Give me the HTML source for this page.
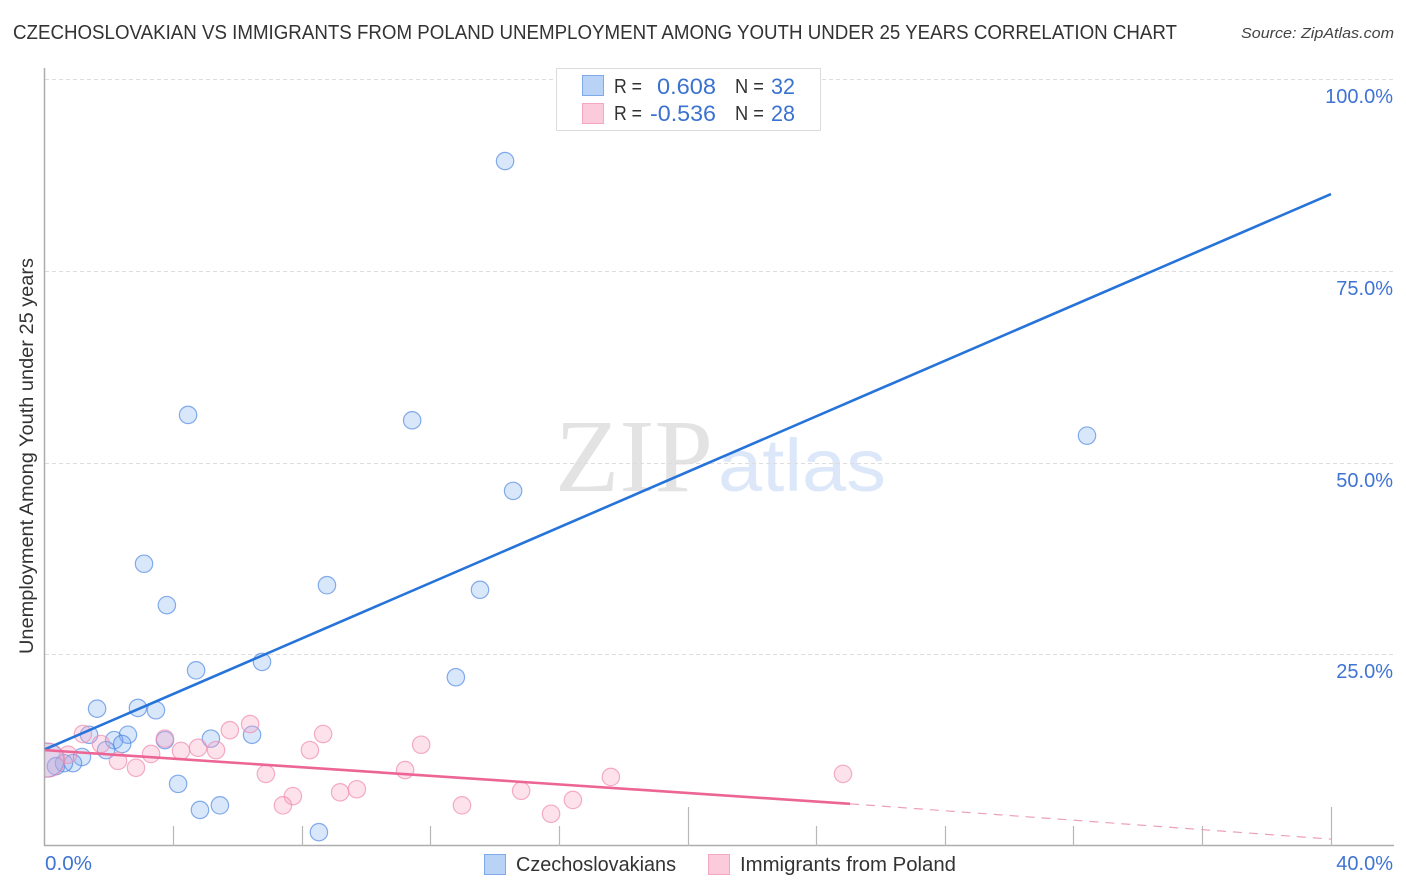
<!DOCTYPE html>
<html lang="en">
<head>
<meta charset="utf-8">
<title>Unemployment correlation chart</title>
<style>
html,body{margin:0;padding:0;background:#fff;width:1406px;height:892px;overflow:hidden}
svg{display:block}
text{font-family:"Liberation Sans",sans-serif}
</style>
</head>
<body>
<svg id="chart" xmlns="http://www.w3.org/2000/svg" width="1406" height="892" viewBox="0 0 1406 892">
  <rect x="0" y="0" width="1406" height="892" fill="#ffffff"/>
  <text x="13" y="39" font-size="20" fill="#333" textLength="1164" lengthAdjust="spacingAndGlyphs">CZECHOSLOVAKIAN VS IMMIGRANTS FROM POLAND UNEMPLOYMENT AMONG YOUTH UNDER 25 YEARS CORRELATION CHART</text>
  <text x="1241" y="38" font-size="15" font-style="italic" fill="#444" textLength="153" lengthAdjust="spacingAndGlyphs">Source: ZipAtlas.com</text>
  <text x="555" y="491" font-size="104" fill="#e3e3e3" style="font-family:'Liberation Serif',serif" textLength="158" lengthAdjust="spacingAndGlyphs">ZIP</text>
  <text x="718" y="491" font-size="74" fill="#dce8f9" textLength="168" lengthAdjust="spacingAndGlyphs">atlas</text>
  <g id="grid"></g>
  <g id="axes"></g>
  <g id="points"></g>
  <g id="trends"></g>
  <text transform="translate(33,654) rotate(-90)" x="0" y="0" font-size="19" fill="#333" textLength="396" lengthAdjust="spacingAndGlyphs">Unemployment Among Youth under 25 years</text>

  <g>
    <rect x="556.5" y="68.5" width="264" height="62" fill="#fff" stroke="#dcdcdc" stroke-width="1"/>
    <rect x="582.5" y="75.5" width="21" height="20" fill="#b9d3f7" stroke="#7eaaea"/>
    <rect x="582.5" y="103.5" width="21" height="20" fill="#fccbdb" stroke="#f4a8c0"/>
    <text x="614" y="93" font-size="20" fill="#333" textLength="28" lengthAdjust="spacingAndGlyphs">R =</text>
    <text x="657" y="94" font-size="22" fill="#3a72d0" textLength="59" lengthAdjust="spacingAndGlyphs">0.608</text>
    <text x="735" y="93" font-size="20" fill="#333" textLength="29" lengthAdjust="spacingAndGlyphs">N =</text>
    <text x="771" y="94" font-size="22" fill="#3a72d0" textLength="24" lengthAdjust="spacingAndGlyphs">32</text>
    <text x="614" y="120" font-size="20" fill="#333" textLength="28" lengthAdjust="spacingAndGlyphs">R =</text>
    <text x="650" y="121" font-size="22" fill="#3a72d0" textLength="66" lengthAdjust="spacingAndGlyphs">-0.536</text>
    <text x="735" y="120" font-size="20" fill="#333" textLength="29" lengthAdjust="spacingAndGlyphs">N =</text>
    <text x="771" y="121" font-size="22" fill="#3a72d0" textLength="24" lengthAdjust="spacingAndGlyphs">28</text>
  </g>

  <g>
    <rect x="484.5" y="854.5" width="21" height="20" fill="#b9d3f7" stroke="#7eaaea"/>
    <text x="516" y="871" font-size="20" fill="#333" textLength="160" lengthAdjust="spacingAndGlyphs">Czechoslovakians</text>
    <rect x="708.5" y="854.5" width="21" height="20" fill="#fccbdb" stroke="#f4a8c0"/>
    <text x="740" y="871" font-size="20" fill="#333" textLength="216" lengthAdjust="spacingAndGlyphs">Immigrants from Poland</text>
  </g>
</svg>
<script>
const yTickValues = [25, 50, 75, 100];
const yTickLabels = ["25.0%", "50.0%", "75.0%", "100.0%"];
const xTickValues = [4, 8, 12, 16, 20, 24, 28, 32, 36, 40];
const xMajorTicks = [20, 40];
const xEndLabels = ["0.0%", "40.0%"];

const blueX = [14.31,4.45,11.42,32.41,14.56,3.08,8.77,13.53,3.79,4.70,6.75,12.78,1.62,2.89,3.45,2.58,2.15,1.37,2.40,1.90,3.73,5.16,6.44,1.15,0.87,0.59,0.34,4.14,4.82,5.44,8.52,0.06];
const blueY = [89.3,56.2,55.5,53.5,46.3,36.8,34.0,33.4,31.4,22.9,24.0,22.0,17.9,18.0,17.7,14.5,13.8,14.5,13.3,12.5,13.8,14.0,14.5,11.6,10.8,10.8,10.4,8.1,4.7,5.3,1.8,11.2];
const blueWeight = [1,1,1,1,1,1,1,1,1,1,1,1,1,1,1,1,1,1,1,1,1,1,1,1,1,1,1,1,1,1,1,2];

const pinkX = [24.82,17.6,11.7,8.65,8.24,6.38,5.75,4.76,5.32,4.23,3.73,3.30,2.83,2.27,1.74,1.18,0.72,0.09,6.87,7.71,7.40,9.18,9.70,11.2,12.97,14.81,15.74,16.42];
const pinkY = [9.4,9.0,13.2,14.6,12.5,15.9,15.1,12.8,12.5,12.4,14.0,12.0,10.2,11.1,13.3,14.6,11.9,11.2,9.4,6.5,5.3,7.0,7.4,9.9,5.3,7.2,4.2,6.0];
const pinkWeight = [1,1,1,1,1,1,1,1,1,1,1,1,1,1,1,1,1,2,1,1,1,1,1,1,1,1,1,1];

const blueTrendX = [0, 40];
const blueTrendY = [12.6, 85.0];
const pinkTrendX = [0, 25.04];
const pinkTrendY = [12.5, 5.5];
const pinkDashX = [25.04, 40];
const pinkDashY = [5.5, 0.9];

const NS = 'http://www.w3.org/2000/svg';
function xScale(v) { return 45 + v * 32.15; }
function yScale(v) { return 846 - v * 7.67; }
function make(parent, tag, attrs, text) {
  const el = document.createElementNS(NS, tag);
  for (const k in attrs) el.setAttribute(k, attrs[k]);
  if (text !== undefined) el.textContent = text;
  parent.appendChild(el);
  return el;
}

const grid = document.getElementById('grid');
const axes = document.getElementById('axes');
const points = document.getElementById('points');
const trends = document.getElementById('trends');

yTickValues.forEach(function (v, i) {
  const y = Math.round(yScale(v)) + 0.5;
  const line = make(grid, 'line', {x1: 45, x2: 1394, y1: y, y2: y, stroke: '#dddddd', 'stroke-width': 1, 'stroke-dasharray': '4 3'});
  
  
  const label = make(axes, 'text', {x: 1393, y: y + 23.5, 'font-size': 20, fill: '#3f74d2', 'text-anchor': 'end'}, yTickLabels[i]);
  
  
});

const leftAxis = make(axes, 'line', {x1: 44.5, x2: 44.5, y1: 68, y2: 846, stroke: '#adadad', 'stroke-width': 1.5});


const bottomAxis = make(axes, 'line', {x1: 44, x2: 1394, y1: 845.5, y2: 845.5, stroke: '#adadad', 'stroke-width': 1.5});



xTickValues.forEach(function (v) {
  const x = Math.floor(xScale(v)) + 0.5;
  const top = xMajorTicks.indexOf(v) >= 0 ? 807 : 826;
  const tick = make(axes, 'line', {x1: x, x2: x, y1: top, y2: 846, stroke: '#b8b8b8', 'stroke-width': 1.2});
  
  
});

const xLabelLeft = make(axes, 'text', {x: 45, y: 870, 'font-size': 20, fill: '#3f74d2', textLength: 47, lengthAdjust: 'spacingAndGlyphs'}, xEndLabels[0]);


const xLabelRight = make(axes, 'text', {x: 1393, y: 870, 'font-size': 20, fill: '#3f74d2', 'text-anchor': 'end'}, xEndLabels[1]);



const clip = make(make(points, 'defs', {}), 'clipPath', {id: 'plot-clip'});
make(clip, 'rect', {x: 45, y: 60, width: 1360, height: 786});

blueX.forEach(function (v, i) {
  const c = make(points, 'circle', {cx: xScale(v), cy: yScale(blueY[i]), r: 8.7 * (blueWeight[i] === 2 ? 1.95 : 1), fill: 'rgba(120,170,240,0.28)', stroke: 'rgba(70,130,225,0.65)', 'stroke-width': 1.2, 'clip-path': 'url(#plot-clip)'});
  
  
});
pinkX.forEach(function (v, i) {
  const c = make(points, 'circle', {cx: xScale(v), cy: yScale(pinkY[i]), r: 8.7 * (pinkWeight[i] === 2 ? 1.95 : 1), fill: 'rgba(250,165,195,0.32)', stroke: 'rgba(240,140,175,0.7)', 'stroke-width': 1.2, 'clip-path': 'url(#plot-clip)'});
  
  
});

const blueLine = make(trends, 'line', {x1: xScale(blueTrendX[0]), y1: yScale(blueTrendY[0]), x2: xScale(blueTrendX[1]), y2: yScale(blueTrendY[1]), stroke: '#2673d9', 'stroke-width': 2.6});


const pinkLine = make(trends, 'line', {x1: xScale(pinkTrendX[0]), y1: yScale(pinkTrendY[0]), x2: xScale(pinkTrendX[1]), y2: yScale(pinkTrendY[1]), stroke: '#ec6595', 'stroke-width': 2.6});


const pinkDash = make(trends, 'line', {x1: xScale(pinkDashX[0]), y1: yScale(pinkDashY[0]), x2: xScale(pinkDashX[1]), y2: yScale(pinkDashY[1]), stroke: '#eda0bc', 'stroke-width': 1.2, 'stroke-dasharray': '9 7'});


</script>
</body>
</html>
